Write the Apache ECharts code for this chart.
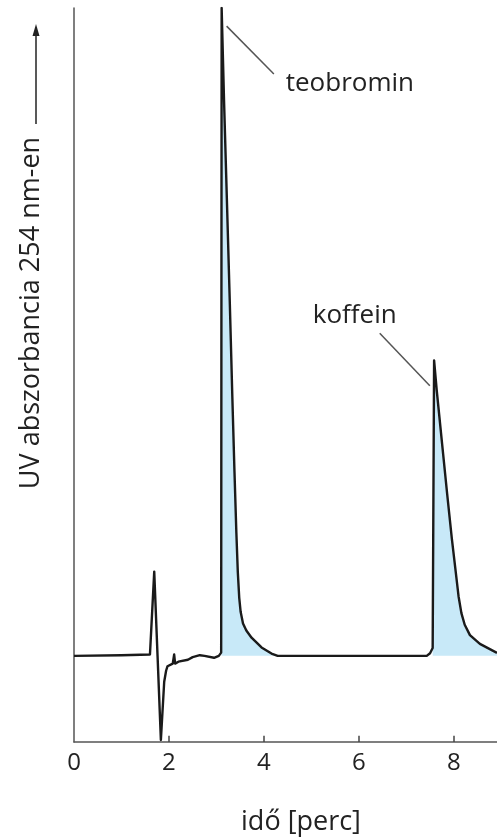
<!DOCTYPE html>
<html>
<head>
<meta charset="utf-8">
<script src="https://cdn.jsdelivr.net/npm/echarts@6/dist/echarts.min.js"></script>
<style>
html, body { margin: 0; padding: 0; background: #fff; }
#main { width: 497px; height: 839px; }
</style>
</head>
<body>
<div id="main"></div>
<script>
// retenciós idő [perc]
var idoPerc = [0, 1.0, 1.6, 1.69, 1.76, 1.83, 1.90, 1.94, 1.97, 2.08, 2.11, 2.13, 2.2, 2.4, 2.5, 2.65, 2.75, 2.95, 3.05,
  3.10, 3.11, 3.16, 3.22, 3.28, 3.335, 3.38, 3.42, 3.45, 3.48, 3.51, 3.56, 3.63, 3.74, 3.95, 4.16, 4.29,
  5.5, 7.43, 7.50, 7.555, 7.585, 7.64, 7.75, 7.86, 7.96, 8.04, 8.10, 8.16, 8.23, 8.34, 8.55, 8.91];
// UV abszorbancia (alapvonal = 0, teobromin csúcs = 100)
var abszorbancia = [0, 0.1, 0.2, 13.0, 0, -13.0, -4.0, -2.3, -1.6, -1.2, 0.2, -1.2, -0.9, -0.6, -0.2, 0.1, 0, -0.3, 0,
  0.5, 100, 85.8, 70.5, 55.0, 40.0, 28.5, 19.0, 13.0, 9.0, 6.8, 5.0, 3.9, 2.8, 1.3, 0.35, 0,
  0, 0, 0.4, 1.2, 45.6, 41.0, 33.0, 25.0, 18.0, 13.0, 9.2, 6.6, 4.8, 3.2, 1.85, 0.46];
// kitöltött csúcsok időtartománya
var csucsTartomany = [[3.10, 4.29], [7.555, 8.91]];
var xTicks = [0, 2, 4, 6, 8];
var yMin = -13.3, yMax = 100;

var cimkek = ['teobromin', 'koffein'];
var cimkeHely = [[4.46, 88.4], [5.03, 52.5]];
var vezetoVonal = [[[3.215, 97.2], [4.21, 89.8]], [[6.44, 49.8], [7.495, 41.7]]];

var trace = idoPerc.map(function (t, i) { return [t, abszorbancia[i]]; });
var fill = idoPerc.map(function (t, i) {
  var inPeak = csucsTartomany.some(function (r) { return t >= r[0] && t <= r[1]; });
  return inPeak ? [t, abszorbancia[i]] : [t, null];
});

var chart = echarts.init(document.getElementById('main'), null, { renderer: 'canvas' });
var font = '"Open Sans", "Noto Sans", sans-serif';

// befelé mutató osztásjelek (markLine-nal, mert az inside tick nem jelenik meg)
var tickLines = xTicks.slice(1).map(function (t) {
  return [{ coord: [t, yMin] }, { coord: [t, yMin + 0.95] }];
});
var leaderLines = vezetoVonal.map(function (l) {
  return [{ coord: l[0] }, { coord: l[1] }];
});

chart.setOption({
  animation: false,
  backgroundColor: '#fff',
  grid: { left: 74, right: 0, top: 8, bottom: 97, containLabel: false },
  xAxis: {
    type: 'value',
    min: 0,
    max: 8.91,
    interval: 2,
    axisLine: { show: true, onZero: false, lineStyle: { color: '#555', width: 1.5 } },
    axisTick: { show: false },
    splitLine: { show: false },
    axisLabel: {
      showMaxLabel: false,
      margin: 9,
      color: '#222',
      fontSize: 24,
      fontFamily: font,
      formatter: function (v) { return xTicks.indexOf(v) >= 0 ? String(v) : ''; }
    }
  },
  yAxis: {
    type: 'value',
    min: yMin,
    max: yMax,
    axisLine: { show: true, lineStyle: { color: '#555', width: 1.5 } },
    axisTick: { show: false },
    axisLabel: { show: false },
    splitLine: { show: false }
  },
  series: [
    {
      name: 'fill',
      type: 'line',
      data: fill,
      showSymbol: false,
      connectNulls: false,
      lineStyle: { width: 0 },
      areaStyle: { color: '#c8e9f8', opacity: 1 },
      z: 1,
      silent: true,
      markLine: {
        silent: true,
        symbol: ['none', 'none'],
        label: { show: false },
        lineStyle: { color: '#444', width: 1.5, type: 'solid' },
        data: tickLines
      }
    },
    {
      name: 'trace',
      type: 'line',
      data: trace,
      showSymbol: false,
      lineStyle: { color: '#1a1a1a', width: 2.4, join: 'round' },
      z: 3,
      markLine: {
        silent: true,
        symbol: ['none', 'none'],
        label: { show: false },
        lineStyle: { color: '#555', width: 1.5, type: 'solid' },
        data: leaderLines
      },
      markPoint: {
        silent: true,
        symbol: 'circle',
        symbolSize: 0,
        label: {
          show: true,
          position: 'right',
          distance: 0,
          color: '#222',
          fontSize: 26,
          fontFamily: font,
          formatter: function (p) { return p.name; }
        },
        data: cimkek.map(function (n, i) { return { name: n, coord: cimkeHely[i] }; })
      }
    }
  ],
  graphic: [
    {
      type: 'text',
      x: 31,
      y: 313,
      rotation: Math.PI / 2,
      style: {
        text: 'UV abszorbancia 254 nm-en',
        fill: '#222',
        font: '27px ' + font,
        textAlign: 'center',
        textVerticalAlign: 'middle'
      }
    },
    {
      type: 'line',
      shape: { x1: 36, y1: 124, x2: 36, y2: 32 },
      style: { stroke: '#222', lineWidth: 1.5 }
    },
    {
      type: 'polygon',
      shape: { points: [[36, 24], [32.5, 36], [39.5, 36]] },
      style: { fill: '#222' }
    },
    {
      type: 'text',
      x: 301,
      y: 822,
      style: {
        text: 'idő [perc]',
        fill: '#222',
        font: '27px ' + font,
        textAlign: 'center',
        textVerticalAlign: 'middle'
      }
    }
  ]
});
</script>
</body>
</html>
